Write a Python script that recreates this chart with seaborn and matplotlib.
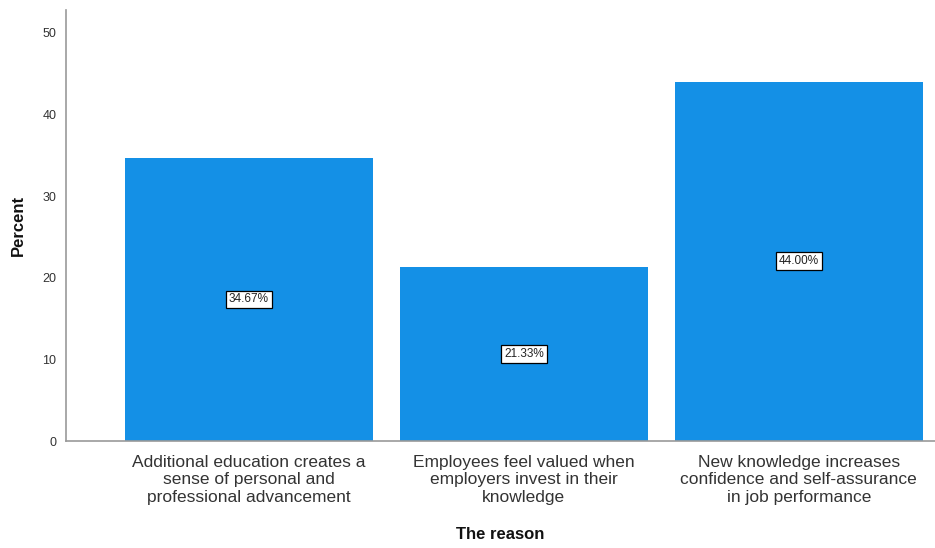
import matplotlib
matplotlib.use("Agg")
import matplotlib.pyplot as plt
import seaborn as sns
import pandas as pd

categories = [
    "Additional education creates a\nsense of personal and\nprofessional advancement",
    "Employees feel valued when\nemployers invest in their\nknowledge",
    "New knowledge increases\nconfidence and self-assurance\nin job performance",
]
percent = [34.67, 21.33, 44.00]
yticks = [0, 10, 20, 30, 40, 50]

sns.set_theme(style="white")
plt.rcParams['font.family'] = ['Liberation Sans', 'DejaVu Sans']

df = pd.DataFrame({"reason": categories, "percent": percent})

fig = plt.figure(figsize=(9.35, 5.48), dpi=100)
ax = fig.add_axes([66/935, 1-441/548, 1-66/935, (441-10)/548])
sns.barplot(data=df, x="reason", y="percent", color="#1490e6", saturation=1,
            width=0.9, ax=ax, edgecolor="none")
ax.set_xlim(-0.665, 2.495)
ax.set_ylim(0, 52.8)
ax.set_yticks(yticks)
ax.set_yticklabels([str(t) for t in yticks], fontsize=9, color="#333333")
ax.tick_params(axis="x", labelsize=12.5, colors="#333333", length=0, pad=10)
for lab in ax.get_xticklabels():
    lab.set_linespacing(1.2)
ax.tick_params(axis="y", length=0, pad=7)
for s in ["top", "right"]:
    ax.spines[s].set_visible(False)
for s in ["left", "bottom"]:
    ax.spines[s].set_color("#999999")
    ax.spines[s].set_linewidth(1.2)
ax.set_ylabel("Percent", fontsize=12, fontweight="bold", labelpad=12, color="#111111")
ax.set_xlabel("The reason", fontsize=12, fontweight="bold", labelpad=16, color="#111111")

for i, v in enumerate(percent):
    ax.text(i, v/2, f"{v:.2f}%", ha="center", va="center", fontsize=8.5,
            color="#222222",
            bbox=dict(boxstyle="square,pad=0.25", facecolor="white",
                      edgecolor="black", linewidth=0.9))

fig.savefig("out.png", dpi=100)
